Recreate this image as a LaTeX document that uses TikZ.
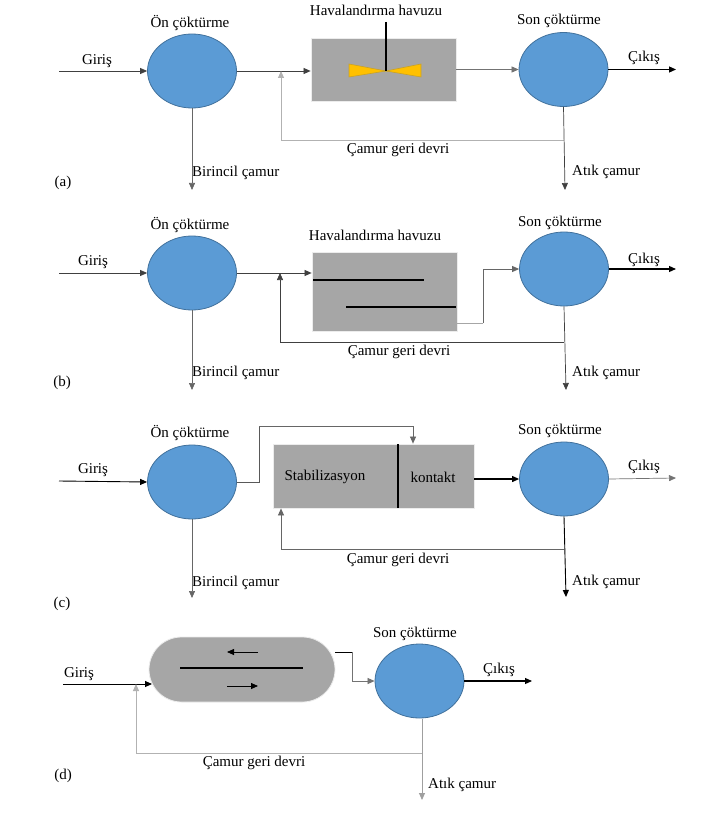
\documentclass[tikz,border=0pt]{standalone}
\usepackage{fontspec}
\setmainfont{Liberation Serif}
\usetikzlibrary{shapes.geometric,arrows.meta}
\definecolor{clblue}{HTML}{5B9BD5}
\definecolor{clborder}{HTML}{41719C}
\definecolor{tankgray}{HTML}{A6A6A6}
\definecolor{mixyellow}{HTML}{FFC000}
\definecolor{mixedge}{HTML}{C9A227}
\tikzset{
  clar/.style={ellipse,fill=clblue,draw=clborder,line width=0.8pt,minimum width=89pt,minimum height=74pt,inner sep=0pt},
  tank/.style={rectangle,fill=tankgray,draw=white!85!gray,line width=0.8pt,inner sep=0pt},
  lbl/.style={inner sep=0pt,font=\fontsize{15}{17}\selectfont},
  lblw/.style={lbl,anchor=west},
  tip/.style={-{Triangle[length=7pt,width=6pt]}},
  flow/.style={draw=black!75,line width=0.7pt,tip},
  flowk/.style={draw=black,line width=1.1pt,tip},
  flowl/.style={draw=gray!60,line width=0.9pt,tip},
  plain/.style={draw=black!75,line width=0.7pt},
  plainl/.style={draw=gray!60,line width=0.9pt},
  baffle/.style={draw=black,line width=1.6pt}
}
\begin{document}
\begin{tikzpicture}[x=1pt,y=-1pt]
\useasboundingbox (0,0) rectangle (725,813);
\fill[white] (0,0) rectangle (725,813);

% ================= (a) =================
\node[clar] (a1) at (192,71) {};
\node[tank,minimum width=145pt,minimum height=63pt] (a2) at (383.5,69.5) {};
\node[clar] (a3) at (563.5,69.5) {};
\node[lbl] (a1t) at (190,23) {Ön çöktürme};
\node[lbl] (a2t) at (376,10) {Havalandırma havuzu};
\node[lbl] (a3t) at (559,21) {Son çöktürme};
\node[lbl] (aint) at (97,61) {Giriş};
\node[lbl] (aoutt) at (644,58) {Çıkış};
\node[lbl] (arect) at (398,150) {Çamur geri devri};
\node[lblw] (aprimt) at (192,173) {Birincil çamur};
\node[lblw] (awast) at (572,172) {Atık çamur};
\node[lbl] (alab) at (63,183) {(a)};
\coordinate (ain) at (59,71);
\coordinate (aout) at (676,69.5);
\coordinate (arc) at (281,140);
\coordinate (aprim) at (192,190);
\coordinate (awas) at (565,190);
\coordinate (ashaft) at (386,22);
\coordinate (amix) at (386,71);
\draw[flow] (ain) -- (a1.west);
\draw[flow] (a1.east) -- (a1.east -| a2.west);
\draw[flow,draw=black!55] (a2.east) -- (a3.west);
\draw[flowk] (a3.east) -- (aout);
\draw[flowl] (a3.south |- arc) -- (arc) -- (arc |- a1.east);
\draw[flow,draw=black!60] (a1.south) -- (aprim);
\draw[flow] (a3.south) -- (awas);
\draw[fill=mixyellow,draw=mixedge,line width=0.6pt] (amix) -- (349,64) -- (349,77) -- cycle;
\draw[fill=mixyellow,draw=mixedge,line width=0.6pt] (amix) -- (421,64) -- (421,77) -- cycle;
\draw[black,line width=1.5pt] (ashaft) -- (amix);

% ================= (b) =================
\node[clar] (b1) at (192,273) {};
\node[tank,minimum width=145pt,minimum height=79pt] (b2) at (384.5,291.5) {};
\node[clar] (b3) at (564,269) {};
\node[lbl] (b1t) at (190,225) {Ön çöktürme};
\node[lbl] (b2t) at (375,235) {Havalandırma havuzu};
\node[lbl] (b3t) at (560,223) {Son çöktürme};
\node[lbl] (bint) at (93,262) {Giriş};
\node[lbl] (boutt) at (644,260) {Çıkış};
\node[lbl] (brect) at (399,352) {Çamur geri devri};
\node[lblw] (bprimt) at (192,373) {Birincil çamur};
\node[lblw] (bwast) at (572,373) {Atık çamur};
\node[lbl] (blab) at (62,383) {(b)};
\coordinate (bin) at (59,273);
\coordinate (bout) at (676,269);
\coordinate (brc) at (280,342);
\coordinate (bo) at (483,323);
\coordinate (bprim) at (192,390);
\coordinate (bwas) at (566,390);
\draw[flow] (bin) -- (b1.west);
\draw[flow] (b1.east) -- (b1.east -| b2.west);
\draw[plainl,draw=gray!70] (b2.east |- bo) -- (bo);
\draw[flow,draw=black!60] (bo) |- (b3.west);
\draw[flowk] (b3.east) -- (bout);
\draw[flow] (b3.south |- brc) -- (brc) -- (brc |- b1.east);
\draw[flow,draw=black!60] (b1.south) -- (bprim);
\draw[flow] (b3.south) -- (bwas);
\draw[baffle] (313,280) -- (424,280);
\draw[baffle] (346,307) -- (456,307);

% ================= (c) =================
\node[clar] (c1) at (192,482) {};
\node[tank,minimum width=201pt,minimum height=64pt] (c2) at (373.5,476) {};
\node[clar] (c3) at (564,479) {};
\node[lbl] (c1t) at (190,433) {Ön çöktürme};
\node[lbl] (c3t) at (560,431) {Son çöktürme};
\node[lbl] (cstab) at (325,477) {Stabilizasyon};
\node[lbl] (ckon) at (433,477) {kontakt};
\node[lbl] (cint) at (93,470) {Giriş};
\node[lbl] (coutt) at (644,467) {Çıkış};
\node[lbl] (crect) at (398,560) {Çamur geri devri};
\node[lblw] (cprimt) at (192,583) {Birincil çamur};
\node[lblw] (cwast) at (572,582) {Atık çamur};
\node[lbl] (clab) at (62,604) {(c)};
\coordinate (cin) at (59,481);
\coordinate (cout) at (676,478);
\coordinate (cu1) at (259,426);
\coordinate (cu2) at (413,426);
\coordinate (crc) at (281,549);
\coordinate (cprim) at (192,598);
\coordinate (cwas) at (566,597);
\draw[flowk,line width=0.9pt] (cin) -- (c1.west);
\draw[plain,line width=1pt,draw=black!65] (c1.east) -- (c1.east -| cu1) -- (cu1);
\draw[flow,draw=black!60] (cu1) -- (cu2) -- (cu2 |- c2.north);
\draw[flowk] (c2.east |- c3.west) -- (c3.west);
\draw[flow,draw=black!55] (c3.east) -- (cout);
\draw[flow,draw=black!60] (c3.south |- crc) -- (crc) -- (crc |- c2.south);
\draw[flow,draw=black!60] (c1.south) -- (cprim);
\draw[flowk,line width=0.9pt] (c3.south) -- (cwas);
\draw[baffle] (398,444) -- (398,508);

% ================= (d) =================
\node[tank,rounded corners=32.5pt,minimum width=186pt,minimum height=65pt] (d1) at (242,669.5) {};
\node[clar] (d2) at (419.5,681) {};
\node[lbl] (d2t) at (415,634) {Son çöktürme};
\node[lbl] (dint) at (79,674) {Giriş};
\node[lbl] (doutt) at (499,670) {Çıkış};
\node[lbl] (drect) at (254,763) {Çamur geri devri};
\node[lblw] (dwast) at (428,785) {Atık çamur};
\node[lbl] (dlab) at (63,776) {(d)};
\coordinate (din) at (63,684);
\coordinate (dent) at (152,684);
\coordinate (dout) at (532,681);
\coordinate (drc) at (136,753);
\coordinate (do1) at (335,652);
\coordinate (do2) at (352,652);
\coordinate (dwas) at (422,800);
\coordinate (dw0) at (422,719);
\draw[flowk,line width=0.9pt] (din) -- (dent);
\draw[flowl] (dw0 |- drc) -- (drc) -- (drc |- dent);
\draw[plain,draw=black,line width=0.9pt] (do1) -- (do2);
\draw[flow,draw=black!55] (do2) |- (d2.west);
\draw[flowk] (d2.east) -- (dout);
\draw[flowl,draw=gray!75] (dw0) -- (dwas);
\draw[baffle] (180,668) -- (303,668);
\draw[flowk,line width=0.8pt] (258,652) -- (227,652);
\draw[flowk,line width=0.8pt] (227,686) -- (258,686);
\end{tikzpicture}
\end{document}
